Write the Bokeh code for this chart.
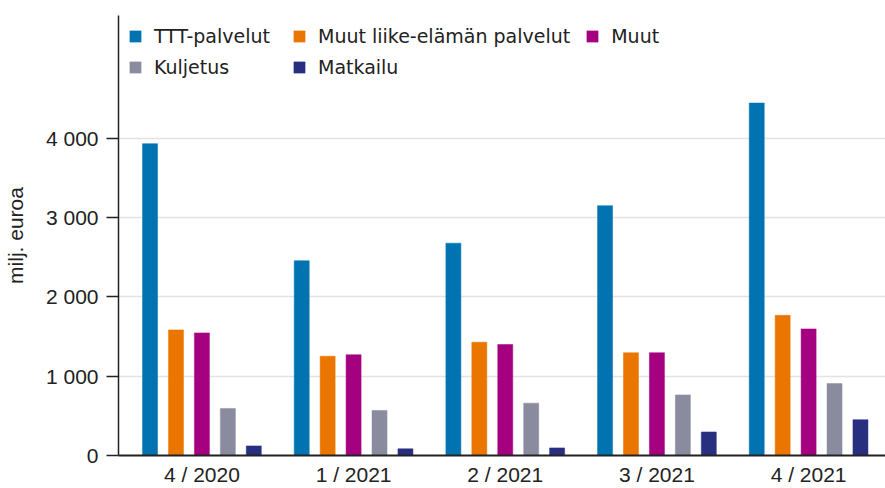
from bokeh.plotting import figure
from bokeh.models import ColumnDataSource, Range1d, FixedTicker, Legend, LegendItem, CustomJSTickFormatter
from bokeh.transform import dodge
from bokeh.embed import file_html
from bokeh.resources import INLINE

quarters = ["4 / 2020", "1 / 2021", "2 / 2021", "3 / 2021", "4 / 2021"]
ttt = [3930, 2455, 2676, 3148, 4442]
muut_liike = [1583, 1252, 1428, 1295, 1766]
muut = [1545, 1270, 1399, 1295, 1595]
kuljetus = [593, 568, 660, 764, 906]
matkailu = [121, 84, 96, 297, 451]

series = [
    ("TTT-palvelut", "ttt", "#0073b0"),
    ("Muut liike-elämän palvelut", "muut_liike", "#ea7600"),
    ("Muut", "muut", "#a50080"),
    ("Kuljetus", "kuljetus", "#8b8ba0"),
    ("Matkailu", "matkailu", "#282f80"),
]
yticks = [0, 1000, 2000, 3000, 4000]

src = ColumnDataSource(dict(
    x=list(range(len(quarters))),
    ttt=ttt, muut_liike=muut_liike, muut=muut, kuljetus=kuljetus, matkailu=matkailu,
))

p = figure(width=885, height=488, output_backend="svg", toolbar_location=None,
           x_range=Range1d(-0.55, 4.507), y_range=Range1d(0, 5545),
           min_border_left=117, min_border_right=0, min_border_top=15, min_border_bottom=30)

pitch = 0.171
items = []
for i, (name, key, color) in enumerate(series):
    r = p.vbar(x=dodge("x", (i - 2) * pitch, range=p.x_range), top=key, width=0.099,
               source=src, fill_color=color, line_color=color, line_width=0.5)
    items.append(LegendItem(label=name, renderers=[r]))

p.outline_line_color = None
p.background_fill_color = "white"
p.xgrid.grid_line_color = None
p.ygrid.grid_line_color = "#e3e3e3"
p.ygrid.grid_line_width = 1.5
p.ygrid.ticker = FixedTicker(ticks=yticks)

p.yaxis.ticker = FixedTicker(ticks=yticks)
p.yaxis.formatter = CustomJSTickFormatter(code="return tick.toLocaleString('fi-FI').replace(/\\s/g, ' ');")
p.yaxis.axis_label = "milj. euroa"
p.yaxis.axis_label_text_font = "Liberation Sans"
p.yaxis.axis_label_text_font_style = "normal"
p.yaxis.axis_label_text_font_size = "21px"
p.yaxis.axis_label_text_color = "#222222"
p.yaxis.axis_label_standoff = 16
p.yaxis.major_label_text_font = "Liberation Sans"
p.yaxis.major_label_text_font_size = "21px"
p.yaxis.major_label_text_color = "#222222"
p.yaxis.major_tick_out = 12
p.yaxis.major_tick_in = 0
p.yaxis.minor_tick_out = 0
p.yaxis.minor_tick_in = 0
p.yaxis.major_label_standoff = 8
p.yaxis.axis_line_color = "#222222"
p.yaxis.axis_line_width = 1.5
p.yaxis.major_tick_line_color = "#222222"
p.yaxis.major_tick_line_width = 1.5

p.xaxis.ticker = FixedTicker(ticks=list(range(len(quarters))))
p.xaxis.major_label_overrides = {i: q for i, q in enumerate(quarters)}
p.xaxis.major_label_text_font = "Liberation Sans"
p.xaxis.major_label_text_font_size = "21px"
p.xaxis.major_label_text_color = "#222222"
p.xaxis.major_tick_out = 0
p.xaxis.major_tick_in = 0
p.xaxis.minor_tick_out = 0
p.xaxis.minor_tick_in = 0
p.xaxis.major_label_standoff = 7
p.xaxis.axis_line_color = "#222222"
p.xaxis.axis_line_width = 2

legend_style = dict(orientation="horizontal", border_line_color=None, background_fill_alpha=0,
                    label_text_font="DejaVu Sans", label_text_font_size="19px",
                    label_text_color="#222222", glyph_width=14, glyph_height=14,
                    label_standoff=12, label_width=123, spacing=15, margin=0, padding=0)
legend1 = Legend(items=items[:3], location=(10, 408), **legend_style)
legend2 = Legend(items=items[3:], location=(10, 377), **legend_style)
p.add_layout(legend1)
p.add_layout(legend2)

open("out.html", "w").write(file_html(p, INLINE))
